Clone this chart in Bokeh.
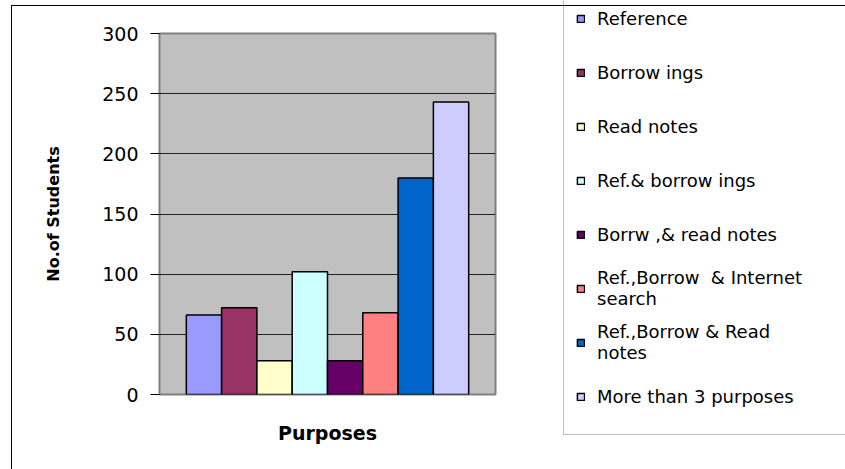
from bokeh.plotting import figure
from bokeh.models import ColumnDataSource, FactorRange, Legend, LegendItem, InlineStyleSheet, Title
from bokeh.embed import file_html
from bokeh.resources import INLINE

# ---- data ----
purposes = ["Reference", "Borrow ings", "Read notes", "Ref.& borrow ings",
            "Borrw ,& read notes", "Ref.,Borrow  & Internet\nsearch",
            "Ref.,Borrow & Read\nnotes", "More than 3 purposes"]
students = [66, 72, 28, 102, 28, 68, 180, 243]
colors = ["#9999FF", "#993366", "#FFFFCC", "#CCFFFF",
          "#660066", "#FF8080", "#0066CC", "#CCCCFF"]
y_ticks = [0, 50, 100, 150, 200, 250, 300]
x_title = "Purposes"
y_title = "No.of Students"

source = ColumnDataSource(dict(purpose=purposes, students=students, color=colors))

p = figure(frame_width=336, frame_height=361, output_backend="svg", toolbar_location=None,
           x_range=FactorRange(factors=purposes, range_padding=0.19),
           y_range=(0, 300), x_axis_location=None,
           min_border_left=159, min_border_right=350,
           min_border_top=33, min_border_bottom=75)

# outer chart-area border (left and top edges) drawn behind a transparent canvas border
p.stylesheets = [InlineStyleSheet(css=(
    ":host { background: "
    "linear-gradient(#000,#000) 11px 5px / 1px calc(100% - 5px) no-repeat, "
    "linear-gradient(#000,#000) 11px 5px / calc(100% - 11px) 1px no-repeat, "
    "#ffffff; }"))]
p.border_fill_color = None
p.background_fill_color = "#C0C0C0"
p.outline_line_color = "#808080"
p.outline_line_width = 2

r = p.vbar(x="purpose", top="students", width=1.0, source=source,
           fill_color="color", line_color="black", line_width=1.5)

# grid
p.xgrid.grid_line_color = None
p.ygrid.grid_line_color = "#222222"
p.ygrid.grid_line_width = 1
p.ygrid.ticker = y_ticks

# y axis
p.yaxis.ticker = y_ticks
p.yaxis.axis_line_color = None
p.yaxis.major_tick_line_color = "black"
p.yaxis.major_tick_out = 9
p.yaxis.major_tick_in = 0
p.yaxis.minor_tick_line_color = None
p.yaxis.major_label_standoff = 12
p.yaxis.major_label_text_font = "DejaVu Sans"
p.yaxis.major_label_text_font_size = "19px"
p.yaxis.major_label_text_color = "black"
p.yaxis.axis_label = y_title
p.yaxis.axis_label_text_font = "DejaVu Sans"
p.yaxis.axis_label_text_font_style = "bold"
p.yaxis.axis_label_text_font_size = "16px"
p.yaxis.axis_label_text_color = "black"
p.yaxis.axis_label_standoff = 36

# x axis title (the category axis itself shows no ticks or labels)
p.add_layout(Title(text=x_title, align="center", text_font="DejaVu Sans",
                   text_font_size="19px", text_font_style="bold",
                   text_color="black", standoff=50), "below")

# legend
items = [LegendItem(label=purposes[i], renderers=[r], index=i) for i in range(len(purposes))]
legend = Legend(items=items, location=(68, -41), orientation="vertical",
                label_text_font="DejaVu Sans", label_text_font_size="18px",
                label_text_color="black",
                glyph_width=9, glyph_height=9, label_height=52, label_width=260,
                label_standoff=12, spacing=2, padding=12, margin=0,
                border_line_color="#808080", border_line_width=1,
                background_fill_color=None)
p.add_layout(legend, "right")

open("out.html", "w").write(file_html(p, INLINE))
